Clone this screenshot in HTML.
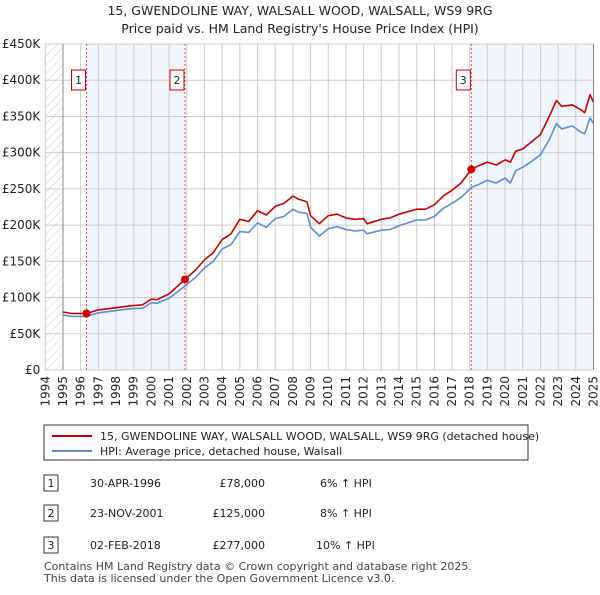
<!DOCTYPE html>
<html><head><meta charset="utf-8"><style>
body{margin:0;background:#fff;font-family:"Liberation Sans","DejaVu Sans",sans-serif;}
svg text{font-family:"DejaVu Sans","Liberation Sans",sans-serif;}
</style></head><body>
<svg id="c" width="600" height="590" xmlns="http://www.w3.org/2000/svg">
<text x="300" y="15" text-anchor="middle" font-size="12.5" fill="#222">15, GWENDOLINE WAY, WALSALL WOOD, WALSALL, WS9 9RG</text>
<text x="300" y="33" text-anchor="middle" font-size="12.5" fill="#222">Price paid vs. HM Land Registry's House Price Index (HPI)</text>
<g id="plot"></g>
<g>
<rect x="44" y="425" width="484" height="35" fill="#fff" stroke="#333" stroke-width="1"/>
<line x1="52" y1="436" x2="92" y2="436" stroke="#cc0000" stroke-width="2"/>
<text x="100" y="440" font-size="11" fill="#222">15, GWENDOLINE WAY, WALSALL WOOD, WALSALL, WS9 9RG (detached house)</text>
<line x1="52" y1="451" x2="92" y2="451" stroke="#5b8fd1" stroke-width="2"/>
<text x="100" y="455" font-size="11" fill="#222">HPI: Average price, detached house, Walsall</text>
</g>
<g font-size="11" fill="#222">
<rect x="44" y="475" width="14" height="16" fill="#fff" stroke="#333"/><text x="51" y="487" text-anchor="middle">1</text>
<text x="90" y="487">30-APR-1996</text><text x="265" y="487" text-anchor="end">£78,000</text><text x="320" y="487">6% ↑ HPI</text>
<rect x="44" y="505" width="14" height="16" fill="#fff" stroke="#333"/><text x="51" y="517" text-anchor="middle">2</text>
<text x="90" y="517">23-NOV-2001</text><text x="265" y="517" text-anchor="end">£125,000</text><text x="320" y="517">8% ↑ HPI</text>
<rect x="44" y="537" width="14" height="16" fill="#fff" stroke="#333"/><text x="51" y="549" text-anchor="middle">3</text>
<text x="90" y="549">02-FEB-2018</text><text x="265" y="549" text-anchor="end">£277,000</text><text x="316" y="549">10% ↑ HPI</text>
</g>
<text x="44" y="570" font-size="11" fill="#444">Contains HM Land Registry data © Crown copyright and database right 2025.</text>
<text x="44" y="582" font-size="11" fill="#444">This data is licensed under the Open Government Licence v3.0.</text>
</svg>
<script>
const yearTicks=[1994,1995,1996,1997,1998,1999,2000,2001,2002,2003,2004,2005,2006,2007,2008,2009,2010,2011,2012,2013,2014,2015,2016,2017,2018,2019,2020,2021,2022,2023,2024,2025];
const priceTicks=[0,50,100,150,200,250,300,350,400,450];
const priceLabels=["£0","£50K","£100K","£150K","£200K","£250K","£300K","£350K","£400K","£450K"];
const pTimes=[1995,1995.5,1996.33,1997,1998,1999,1999.5,2000,2000.3,2001,2001.9,2002.5,2003,2003.5,2004,2004.5,2005,2005.5,2006,2006.5,2007,2007.5,2008,2008.3,2008.8,2009,2009.5,2010,2010.5,2011,2011.5,2012,2012.2,2013,2013.5,2014,2015,2015.5,2016,2016.5,2017,2017.5,2018.1,2018.5,2019,2019.5,2020,2020.3,2020.6,2021,2021.5,2022,2022.5,2022.9,2023.2,2023.8,2024.3,2024.5,2024.8,2025];
const propertyValues=[80,78,78,83,86,89,90,98,97,105,125,138,152,162,180,188,208,205,220,214,226,230,240,236,232,213,202,213,215,210,208,209,202,208,210,215,222,222,228,240,248,258,277,282,287,283,290,287,302,305,315,325,350,372,364,366,359,355,380,370];
const hpiValues=[76,74,74,79,82,85,85,93,92,99,116,128,141,150,167,173,191,190,203,197,209,212,222,218,216,197,185,195,198,194,192,193,188,193,194,199,207,207,212,223,230,238,252,256,262,258,265,258,275,280,288,297,318,340,333,337,328,326,348,340];
const saleTimes=[1996.33,2001.9,2018.09];
const salePrices=[78,125,277];
const saleLabels=["1","2","3"];
const NS="http://www.w3.org/2000/svg";
const L=45.3,R=593.5,T=44,B=370;
const x=t=>L+(t-1994)*(R-L)/31;
const y=v=>B-v*(B-T)/450;
const g=document.getElementById('plot');
function el(n,a){const e=document.createElementNS(NS,n);for(const k in a)e.setAttribute(k,a[k]);g.appendChild(e);return e;}
// hatch
const defs=el('defs',{});
defs.innerHTML='<pattern id="h" width="6" height="6" patternUnits="userSpaceOnUse" patternTransform="rotate(45)"><line x1="0" y1="0" x2="0" y2="6" stroke="#ccc" stroke-width="1"/></pattern>';
let e=el('rect',{x:L,y:T,width:x(1995)-L,height:B-T,fill:'url(#h)'});


e=el('rect',{x:x(saleTimes[0]),y:T,width:x(saleTimes[1])-x(saleTimes[0]),height:B-T,fill:'#eef3fc',opacity:0.8});


e=el('rect',{x:x(saleTimes[2]),y:T,width:R-x(saleTimes[2]),height:B-T,fill:'#eef3fc',opacity:0.8});


priceTicks.forEach((v,i)=>{
 e=el('line',{x1:L,x2:R,y1:y(v),y2:y(v),stroke:'#ccc','stroke-width':1});
 
 
 e=el('text',{x:L-5,y:y(v)+4,'text-anchor':'end','font-size':12,fill:'#222'});e.textContent=priceLabels[i];
 
 
});
yearTicks.forEach(t=>{
 e=el('line',{x1:x(t),x2:x(t),y1:T,y2:B,stroke:'#ccc','stroke-width':1});
 
 
 e=el('text',{x:0,y:0,'text-anchor':'end','font-size':12,fill:'#222',transform:`translate(${x(t)+4},${B+6}) rotate(-90)`});e.textContent=t;
 
 
});
e=el('line',{x1:x(1995),x2:x(1995),y1:T,y2:B,stroke:'#888'});
e=el('line',{x1:R,x2:R,y1:T,y2:B,stroke:'#888'});
saleTimes.forEach((t,i)=>{
 e=el('line',{x1:x(t),x2:x(t),y1:T,y2:B,stroke:'#e05050','stroke-dasharray':'2,2','stroke-width':1});
 
 
});
function path(vals,col,name){
 const d=pTimes.map((t,i)=>(i?'L':'M')+x(t).toFixed(1)+','+y(vals[i]).toFixed(1)).join('');
 const p=el('path',{d:d,fill:'none',stroke:col,'stroke-width':1.6,'stroke-linejoin':'round'});
 
 
}
path(hpiValues,'#5b8fd1','hpi-line');
path(propertyValues,'#cc0000','property-price-line');
saleTimes.forEach((t,i)=>{
 e=el('circle',{cx:x(t),cy:y(salePrices[i]),r:4,fill:'#cc0000'});
 
 
 const bx=x(t)-9-(i==2?0:0);
 e=el('rect',{x:x(t)-15,y:70,width:14,height:20,fill:'#fff',stroke:'#cc0000'});
 
 
 e=el('text',{x:x(t)-8,y:84,'text-anchor':'middle','font-size':11,fill:'#222'});e.textContent=saleLabels[i];
 
 
});
</script>
</body></html>
